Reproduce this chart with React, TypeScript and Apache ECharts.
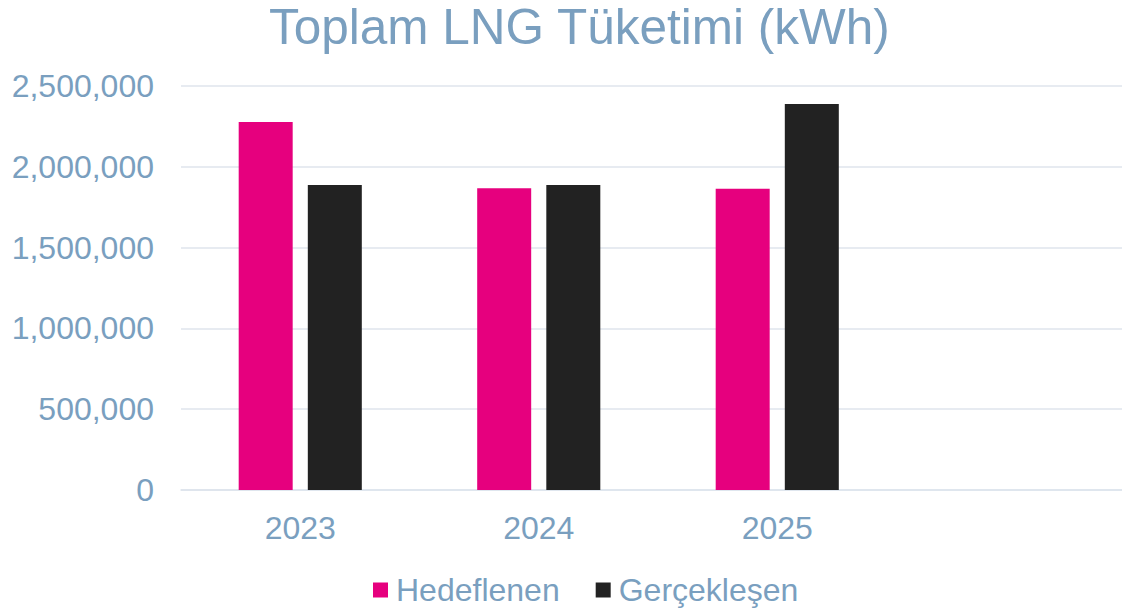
import React, { useEffect, useRef } from "react";
import * as echarts from "echarts";

const categories = ["2023", "2024", "2025", ""];
const targetValues = [2277000, 1868000, 1864000, null];
const actualValues = [1887000, 1887000, 2389000, null];
const seriesNames = ["Hedeflenen", "Gerçekleşen"];

const TEXT = "#7a9fbf";
const FONT = "'Liberation Sans', Arial, sans-serif";

export default function App() {
  const ref = useRef<HTMLDivElement>(null);
  useEffect(() => {
    if (!ref.current) return;
    const chart = echarts.init(ref.current, undefined, { renderer: "svg" });
    chart.setOption({
      animation: false,
      backgroundColor: "#ffffff",
      textStyle: { fontFamily: FONT },
      title: {
        text: "Toplam LNG Tüketimi (kWh)",
        left: 264,
        top: -4,
        textStyle: { fontSize: 49.5, fontWeight: "normal", color: TEXT, fontFamily: FONT },
      },
      legend: {
        data: seriesNames,
        left: 368,
        top: 569,
        itemWidth: 15,
        itemHeight: 15,
        itemGap: 36,
        icon: "rect",
        textStyle: { fontSize: 32, color: TEXT, fontFamily: FONT, padding: [0, 0, 0, 3] },
      },
      grid: { left: 181, top: 86, bottom: 119, right: 0 },
      xAxis: {
        type: "category",
        data: categories,
        axisTick: { show: false },
        axisLine: { lineStyle: { color: "#dde4ec", width: 1.5 } },
        axisLabel: { fontSize: 32, color: TEXT, margin: 22, fontFamily: FONT },
      },
      yAxis: {
        type: "value",
        min: 0,
        max: 2500000,
        interval: 500000,
        axisLine: { show: false },
        axisTick: { show: false },
        splitLine: { lineStyle: { color: "#dfe5ed", width: 1.5 } },
        axisLabel: {
          fontSize: 32,
          color: TEXT,
          margin: 27,
          fontFamily: FONT,
          formatter: (v: number) => v.toLocaleString("en-US"),
        },
      },
      series: [
        {
          name: seriesNames[0],
          type: "bar",
          data: targetValues,
          barWidth: 54,
          barGap: "28%",
          itemStyle: { color: "#e6007e" },
        },
        {
          name: seriesNames[1],
          type: "bar",
          data: actualValues,
          barWidth: 54,
          itemStyle: { color: "#222222" },
        },
      ],
    });
    return () => chart.dispose();
  }, []);
  return (
    <div
      ref={ref}
      style={{ position: "fixed", left: 0, top: 0, width: 1135, height: 609 }}
    />
  );
}
